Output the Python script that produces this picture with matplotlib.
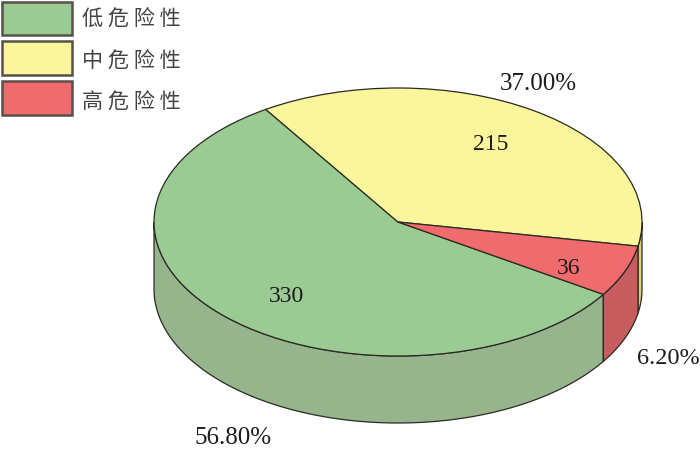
import numpy as np
import matplotlib
matplotlib.use('Agg')
import matplotlib.pyplot as plt
from matplotlib.patches import Rectangle

labels = ['低 危 险 性', '中 危 险 性', '高 危 险 性']
counts = [330, 215, 36]
percents = ['56.80%', '37.00%', '6.20%']
top_colors = ['#9ACB92', '#FBF59C', '#EF6B6D']
side_colors = ['#97B58D', '#D8CF80', '#C85D5F']

W, H = 700, 449
cx, cy, rx, ry = 398, 222, 244, 134
depth = 67 / ry
edge = '#2b2a22'

plt.rcParams['font.family'] = ['Liberation Serif', 'DejaVu Serif']

fig = plt.figure(figsize=(7, 4.49), dpi=100)
ax = fig.add_axes([0, 0, 1, 1])
wedges, _ = ax.pie(counts, colors=top_colors, startangle=-32.7, counterclock=False,
                   wedgeprops={'edgecolor': edge, 'linewidth': 0.9}, normalize=True)
for w in wedges:
    w.set_zorder(3)
ax.set_aspect('auto')
# axes are in unit circle space so the pie comes out as an ellipse
ax.set_xlim(-cx / rx, (W - cx) / rx)
ax.set_ylim((cy - H) / ry, cy / ry)
ax.axis('off')

# side wall, only the front half (180-360 deg) shows
for w, c in zip(wedges, side_colors):
    for shift in (-360, 0, 360, 720):
        a = max(w.theta1 + shift, 180)
        b = min(w.theta2 + shift, 360)
        if a >= b:
            continue
        t = np.radians(np.linspace(a, b, 120))
        x = np.cos(t)
        y = np.sin(t)
        ax.fill(np.r_[x, x[::-1]], np.r_[y, y[::-1] - depth], facecolor=c,
                edgecolor=edge, linewidth=0.9, zorder=2)


def px_text(x, y, s, size=17):
    fig.text(x / W, 1 - y / H, s, fontsize=size, ha='center', va='center', color='#1c1c1c')


px_text(286, 296, str(counts[0]))
px_text(491, 145, str(counts[1]))
px_text(569, 268, str(counts[2]))
px_text(233, 438, percents[0], 18)
px_text(538, 84, percents[1], 18)
px_text(668, 358, percents[2], 17.5)

# legend by hand, the label rows are not evenly spaced against the boxes
box_tops = [1.5, 41, 81]
label_ys = [20, 62, 103]
for top, ly, c, lab in zip(box_tops, label_ys, top_colors, labels):
    fig.add_artist(Rectangle((2 / W, 1 - (top + 33.5) / H), 70 / W, 33.5 / H, facecolor=c,
                             edgecolor='#5a5048', linewidth=1.8, transform=fig.transFigure))
    fig.text(82 / W, 1 - ly / H, lab, fontsize=15.2, ha='left', va='center', color='#444444',
             family=['Noto Sans CJK SC', 'DejaVu Sans'])

fig.savefig('out.png', dpi=100)
